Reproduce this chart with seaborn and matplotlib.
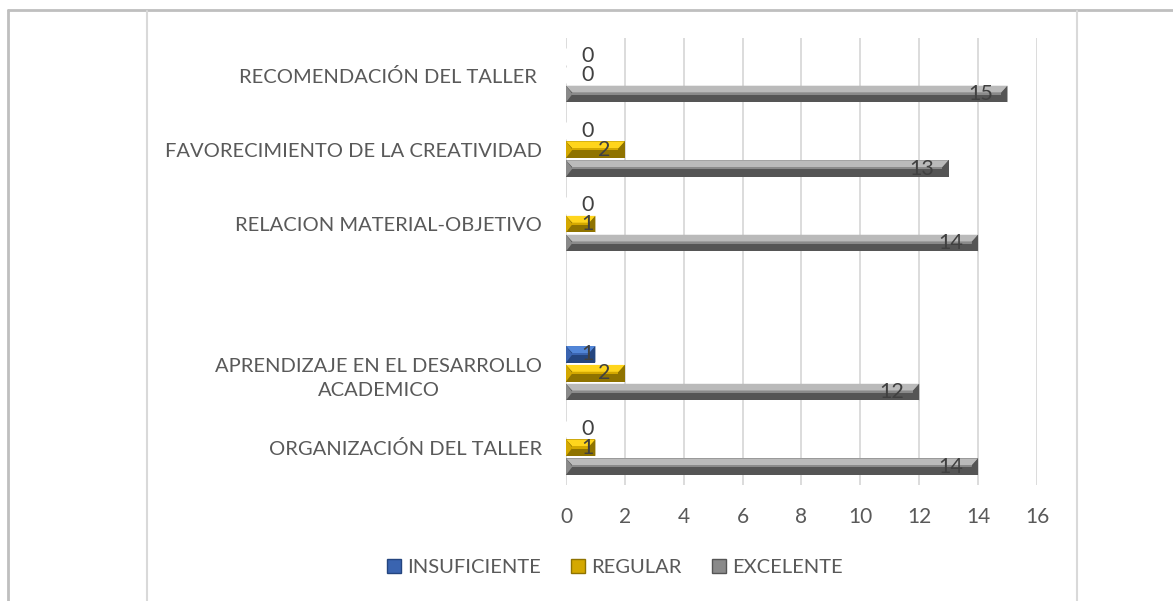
import pandas as pd
import matplotlib.pyplot as plt
import seaborn as sns
from matplotlib.patches import Polygon, Patch
from matplotlib.lines import Line2D

# =========================
# Datos
# =========================
categorias = [
    "RECOMENDACIÓN DEL TALLER ",
    "FAVORECIMIENTO DE LA CREATIVIDAD",
    "RELACION MATERIAL-OBJETIVO",
    " ",
    "APRENDIZAJE EN EL DESARROLLO\nACADEMICO",
    "ORGANIZACIÓN DEL TALLER",
]
series = ["INSUFICIENTE", "REGULAR", "EXCELENTE"]

insuficiente = [0, 0, 0, None, 1, 0]
regular = [0, 2, 1, None, 2, 1]
excelente = [15, 13, 14, None, 12, 14]

rows = []
for i, cat in enumerate(categorias):
    for serie, vals in zip(series, [insuficiente, regular, excelente]):
        if vals[i] is not None:
            rows.append({"categoria": cat, "serie": serie, "valor": vals[i]})
df = pd.DataFrame(rows)

# colores (claro, medio, oscuro)
tonos = {
    "INSUFICIENTE": ("#5286d8", "#3a64b0", "#24457f"),
    "REGULAR": ("#ffd51c", "#d4a800", "#8f7300"),
    "EXCELENTE": ("#bababa", "#8a8a8a", "#555555"),
}
paleta = {k: v[1] for k, v in tonos.items()}

# =========================
# Grafico
# =========================
sns.set_style("white")
plt.rcParams["font.family"] = ["Lato", "DejaVu Sans"]

fig = plt.figure(figsize=(11.73, 6.01), dpi=100)
ax = fig.add_axes([0.4825, 0.193, 0.4015, 0.744])

sns.barplot(
    data=df, y="categoria", x="valor", hue="serie",
    order=categorias, hue_order=series, palette=paleta,
    orient="h", width=0.76, gap=0.12, ax=ax, legend=False,
)

# efecto biselado
for serie, cont in zip(series, ax.containers):
    claro, medio, oscuro = tonos[serie]
    for p in cont.patches:
        w = p.get_width()
        if pd.isna(w) or w <= 0:
            continue
        y0 = p.get_y()
        h = p.get_height()
        y1 = y0 + h
        ym = y0 + h / 2
        d = min(0.22, w / 3)
        p.set_facecolor(oscuro)
        p.set_edgecolor("none")
        ax.add_patch(Polygon([(0, y0), (w, y0), (w - d, y0 + h * 0.42), (d, y0 + h * 0.42)],
                             closed=True, facecolor=claro, edgecolor="none", zorder=3))
        ax.add_patch(Polygon([(d, y0 + h * 0.42), (w - d, y0 + h * 0.42), (w - d, y1 - h * 0.45), (d, y1 - h * 0.45)],
                             closed=True, facecolor=medio, edgecolor="none", zorder=3))
        ax.add_patch(Polygon([(w, y0), (w, y1), (w - d, ym)],
                             closed=True, facecolor=oscuro, edgecolor="none", zorder=3))
        ax.add_patch(Polygon([(0, y0), (0, y1), (d, ym)],
                             closed=True, facecolor=medio, edgecolor="none", zorder=3))

# etiquetas de datos
for cont in ax.containers:
    for p in cont.patches:
        w = p.get_width()
        if pd.isna(w):
            continue
        yc = p.get_y() + p.get_height() / 2
        ax.text(max(w - 0.5, 0.95), yc, f"{int(w)}", ha="right", va="center",
                fontsize=15.5, color="#404040", zorder=5)

ax.set_xlim(0, 16)
ax.set_xticks(range(0, 17, 2))
ax.set_ylim(len(categorias) - 0.5, -0.5)
ax.grid(axis="x", color="#d9d9d9", linewidth=1.3)
ax.set_axisbelow(True)
for s in ax.spines.values():
    s.set_visible(False)
ax.set_xlabel("")
ax.set_ylabel("")
ax.tick_params(axis="x", labelsize=15, labelcolor="#595959", length=0, pad=16)
ax.tick_params(axis="y", labelsize=14.5, labelcolor="#595959", length=0, pad=17)
for t in ax.get_yticklabels():
    t.set_multialignment("center")
    t.set_linespacing(1.5)

handles = [Patch(facecolor=tonos[s][1], edgecolor=tonos[s][2]) for s in series]
fig.legend(handles, series, loc="center", bbox_to_anchor=(0.524, 0.055), ncol=3,
           frameon=False, fontsize=14.5, labelcolor="#595959", handlelength=0.7,
           handleheight=0.7, handletextpad=0.3, columnspacing=1.5)

# marco
gris = "#bfbfbf"
fig.add_artist(Line2D([8 / 1173, 1], [1 - 10 / 601, 1 - 10 / 601], color=gris, lw=2))
fig.add_artist(Line2D([8 / 1173, 8 / 1173], [0, 1 - 10 / 601], color=gris, lw=2))
fig.add_artist(Line2D([147 / 1173, 147 / 1173], [0, 1 - 11 / 601], color="#d9d9d9", lw=1.5))
fig.add_artist(Line2D([1077 / 1173, 1077 / 1173], [0, 1 - 11 / 601], color="#d9d9d9", lw=1.5))

fig.savefig("out.png", dpi=100)
